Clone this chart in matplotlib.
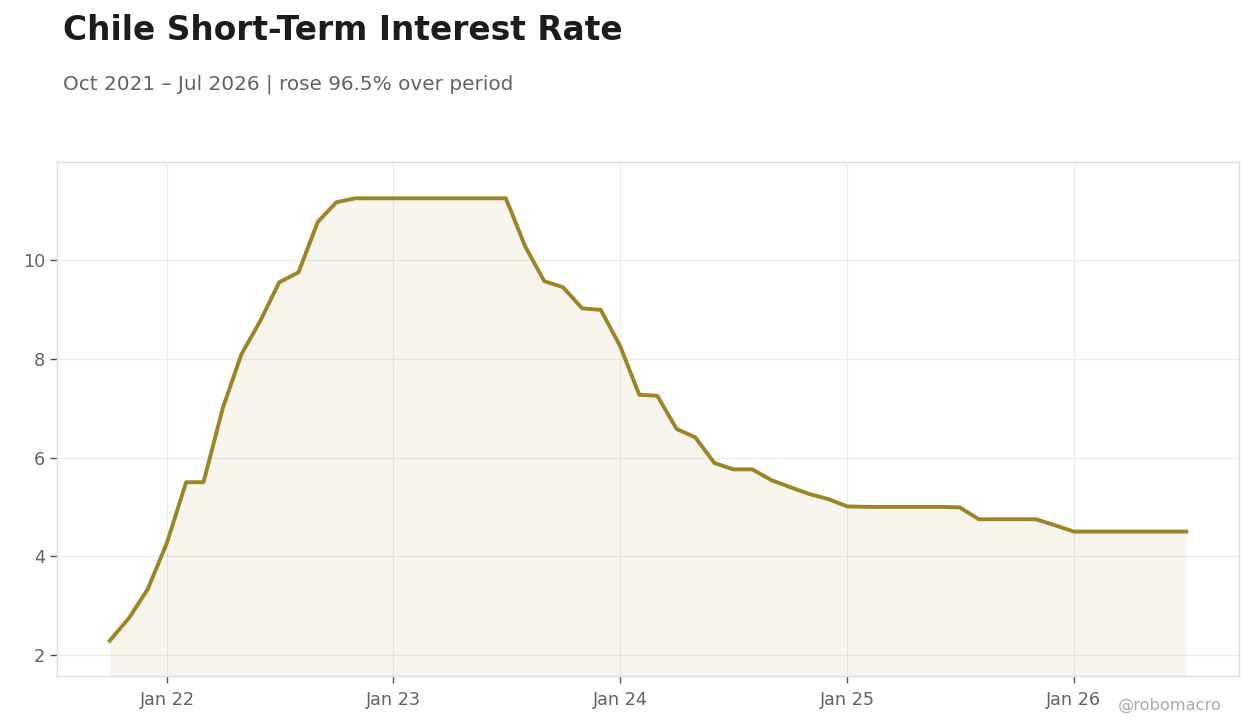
import matplotlib
matplotlib.use("Agg")
import matplotlib.pyplot as plt
import pandas as pd

plt.rcParams["font.family"] = ["DejaVu Sans"]

# ---- data ----
months = pd.date_range("2021-10-01", "2026-07-01", freq="MS")
rates = [
    2.29, 2.75, 3.33,                                           # 2021 Oct-Dec
    4.27, 5.50, 5.50, 7.00, 8.09, 8.78, 9.55, 9.75, 10.77, 11.17, 11.25, 11.25,  # 2022
    11.25, 11.25, 11.25, 11.25, 11.25, 11.25, 11.25, 10.28, 9.57, 9.45, 9.02, 8.99,  # 2023
    8.26, 7.27, 7.25, 6.58, 6.41, 5.89, 5.76, 5.76, 5.54, 5.40, 5.26, 5.16,  # 2024
    5.01, 5.00, 5.00, 5.00, 5.00, 5.00, 4.99, 4.75, 4.75, 4.75, 4.75, 4.63,  # 2025
    4.50, 4.50, 4.50, 4.50, 4.50, 4.50, 4.50,                   # 2026 Jan-Jul
]
xtick_dates = pd.to_datetime(["2022-01-01", "2023-01-01", "2024-01-01", "2025-01-01", "2026-01-01"])
xtick_labels = ["Jan 22", "Jan 23", "Jan 24", "Jan 25", "Jan 26"]
yticks = [2, 4, 6, 8, 10]

title = "Chile Short-Term Interest Rate"
subtitle = "Oct 2021 \u2013 Jul 2026 | rose 96.5% over period"
credit = "@robomacro"

line_color = "#9C8526"
text_gray = "#5f6368"

fig = plt.figure(figsize=(12.6, 7.28), dpi=100)
ax = fig.add_axes([57/1260, 1-676/728, (1239-57)/1260, (676-162)/728])

ax.fill_between(months, rates, 1.575, color=line_color, alpha=0.08, linewidth=0)
ax.plot(months, rates, color=line_color, linewidth=2.8)

ax.set_xlim(pd.Timestamp("2021-07-08"), pd.Timestamp("2026-09-24"))
ax.set_ylim(1.575, 11.985)

ax.set_xticks(xtick_dates)
ax.set_xticklabels(xtick_labels)
ax.set_yticks(yticks)
ax.set_yticklabels([str(v) for v in yticks])

ax.grid(True, color="#ebebeb", linewidth=0.8)
ax.set_axisbelow(True)
for s in ax.spines.values():
    s.set_color("#dddddd")
    s.set_linewidth(1.0)
ax.tick_params(axis="both", colors="#555555", labelcolor=text_gray, labelsize=12.7,
               length=5, width=1)
ax.tick_params(axis="x", pad=6)

fig.text(63/1260, 1-14/728, title, fontsize=23.7, fontweight="bold",
         color="#1c1c1e", ha="left", va="top")
fig.text(63/1260, 1-75/728, subtitle, fontsize=14.4, color=text_gray,
         ha="left", va="top")
fig.text(1222/1260, 1-713/728, credit, fontsize=11.7, color="#aaaaaa",
         ha="right", va="bottom")

fig.savefig("out.png", dpi=100)
